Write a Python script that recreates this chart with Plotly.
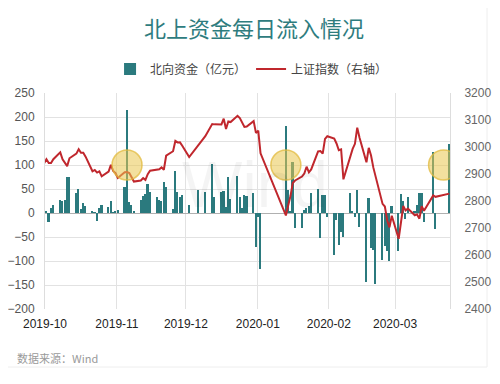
import plotly.graph_objects as go

# Trading days with Northbound data (x positions on a calendar date axis)
dates = [
    "2019-10-21", "2019-10-22", "2019-10-23", "2019-10-24", "2019-10-25",
    "2019-10-28", "2019-10-29", "2019-10-30", "2019-10-31", "2019-11-01",
    "2019-11-04", "2019-11-05", "2019-11-06", "2019-11-07", "2019-11-08",
    "2019-11-11", "2019-11-12", "2019-11-13", "2019-11-14", "2019-11-15",
    "2019-11-18", "2019-11-19", "2019-11-20", "2019-11-21", "2019-11-22",
    "2019-11-25", "2019-11-26", "2019-11-27", "2019-11-28", "2019-11-29",
    "2019-12-02", "2019-12-03", "2019-12-04", "2019-12-05", "2019-12-06",
    "2019-12-09", "2019-12-10", "2019-12-11", "2019-12-12", "2019-12-13",
    "2019-12-16", "2019-12-17", "2019-12-18", "2019-12-19", "2019-12-20",
    "2019-12-23", "2019-12-27", "2019-12-30",
    "2020-01-02", "2020-01-03", "2020-01-06", "2020-01-07", "2020-01-08",
    "2020-01-09", "2020-01-10", "2020-01-13", "2020-01-14", "2020-01-15",
    "2020-01-16", "2020-01-17", "2020-01-20", "2020-01-21", "2020-01-22",
    "2020-01-23",
    "2020-02-03", "2020-02-04", "2020-02-05", "2020-02-06", "2020-02-07",
    "2020-02-10", "2020-02-11", "2020-02-12", "2020-02-13", "2020-02-14",
    "2020-02-17", "2020-02-18", "2020-02-19", "2020-02-20", "2020-02-21",
    "2020-02-24", "2020-02-25", "2020-02-26", "2020-02-27", "2020-02-28",
    "2020-03-02", "2020-03-03", "2020-03-04", "2020-03-05", "2020-03-06",
    "2020-03-09", "2020-03-10", "2020-03-11", "2020-03-12", "2020-03-13",
    "2020-03-16", "2020-03-17", "2020-03-18", "2020-03-19", "2020-03-20",
    "2020-03-23", "2020-03-24", "2020-03-25", "2020-03-26", "2020-03-27",
    "2020-03-30", "2020-03-31", "2020-04-01", "2020-04-02", "2020-04-03",
    "2020-04-07", "2020-04-08", "2020-04-14",
]

# 北向资金 (亿元)
northbound = [
    5, 3, -18, 10, 17,
    28, 24, 27, 74, 74,
    41, 51, 8, 20, 14,
    4, 2, -17, 10, 17,
    13, 25, 2, 4, 7,
    55, 215, 22, 16, 5,
    27, 35, 40, 60, 43,
    33, 28, 24, 64, 54,
    8, 88, 44, 34, 37,
    17, 47, 44,
    102, 34, 44, 45, 13,
    76, 29, 77, 33, 10,
    37, 35, 41, -71, -8,
    -116,
    182, 48, 3, 107, -32,
    -32, 7, 11, 14, 41,
    51, -53, 37, 37, -9,
    -87, -15, -67, -39, -50,
    41, 3, -8, 48, -30,
    -143, 31, -72, -78, -147,
    -98, -68, -80, -101, 15,
    -79, 40, 25, -13, 33,
    5, 16, 41, 41, -18,
    128, -33, 144,
]

# 上证指数
sse = [
    2939.6, 2954.4, 2940.9, 2940.5, 2954.9,
    2980.1, 2954.2, 2939.3, 2929.1, 2958.2,
    2975.5, 2991.6, 2978.6, 2978.7, 2964.2,
    2910.0, 2914.8, 2905.2, 2909.9, 2891.3,
    2909.2, 2934.0, 2911.1, 2903.6, 2885.3,
    2906.2, 2907.1, 2903.2, 2889.7, 2872.0,
    2875.8, 2884.7, 2878.1, 2899.5, 2912.0,
    2914.5, 2917.3, 2924.4, 2915.7, 2967.7,
    2984.3, 3022.4, 3017.0, 3017.1, 3004.9,
    2962.8, 3005.0, 3040.0,
    3085.2, 3083.8, 3083.4, 3104.8, 3066.9,
    3094.9, 3092.3, 3115.6, 3106.8, 3090.0,
    3074.1, 3075.5, 3095.8, 3052.1, 3060.8,
    2976.5,
    2746.6, 2783.3, 2818.1, 2866.5, 2876.0,
    2890.5, 2901.7, 2926.9, 2906.1, 2917.0,
    2983.6, 2985.0, 2975.4, 3030.2, 3039.7,
    3031.2, 3013.1, 2987.9, 2991.3, 2880.3,
    2970.9, 2992.9, 3011.7, 3071.7, 3034.5,
    2943.3, 2996.8, 2968.5, 2923.5, 2887.4,
    2789.3, 2779.6, 2728.8, 2702.1, 2745.6,
    2660.2, 2722.4, 2781.6, 2764.9, 2772.2,
    2747.2, 2750.3, 2734.5, 2780.6, 2764.0,
    2820.8, 2815.4, 2827.3,
]

tick_vals = ["2019-10-21 09:00", "2019-11-21 15:00", "2019-12-21 14:00",
             "2020-01-21 20:00", "2020-02-21 16:00", "2020-03-21 10:00"]
tick_text = ["2019-10", "2019-11", "2019-12", "2020-01", "2020-02", "2020-03"]

highlight_dates = ["2019-11-26", "2020-02-03", "2020-04-11 12:00"]
highlight_level = 100

TEAL = "#2B7A7E"
RED = "#C0272D"
FONT = "Liberation Sans, Noto Sans CJK SC, sans-serif"

# page body has an 8px margin: figure is laid out in its own pixel frame
W, H = 492, 376
ML, MT, PW, PH = 37, 85, 405, 216

fig = go.Figure()
fig.add_trace(go.Bar(
    x=dates, y=northbound, name="北向资金（亿元）",
    marker=dict(color=TEAL, line=dict(width=0)),
    width=0.7 * 86400000, yaxis="y",
))
fig.add_trace(go.Scatter(
    x=dates, y=sse, name="上证指数（右轴）", mode="lines",
    line=dict(color=RED, width=2), yaxis="y2",
))

shapes = []
for d in highlight_dates:
    shapes.append(dict(
        type="circle", xref="x", yref="y", xsizemode="pixel", ysizemode="pixel",
        xanchor=d, yanchor=highlight_level, x0=-15, x1=15, y0=-15, y1=15,
        fillcolor="rgba(234,198,78,0.55)",
        line=dict(color="rgba(226,186,60,0.75)", width=1.5), layer="above",
    ))
# faint card border
shapes.append(dict(
    type="rect", xref="paper", yref="paper",
    x0=(2 - 45) / PW, x1=(487 - 45) / PW, y0=(309 - 367) / PH, y1=(309 - 2) / PH,
    line=dict(color="#eeeeee", width=1), fillcolor="rgba(0,0,0,0)", layer="below",
))

fig.update_layout(
    width=W, height=H,
    margin=dict(l=ML, r=W - ML - PW, t=MT, b=H - MT - PH, pad=0),
    paper_bgcolor="white", plot_bgcolor="white",
    font=dict(family=FONT, size=12, color="#555"),
    title=dict(
        text="北上资金每日流入情况", x=0.5, xanchor="center",
        y=1 - 21 / H, yanchor="middle",
        font=dict(family="Noto Sans CJK SC", size=22, color="#2E7C7E"),
    ),
    showlegend=True,
    legend=dict(
        orientation="h", x=0.51, xanchor="center", y=1 + 24 / PH, yanchor="middle",
        font=dict(family="Noto Sans CJK SC, " + FONT, size=12, color="#444"),
        bgcolor="rgba(0,0,0,0)",
    ),
    bargap=0,
    xaxis=dict(
        type="date", range=["2019-10-21 09:00", "2020-04-14 07:00"],
        tickvals=tick_vals, ticktext=tick_text,
        showgrid=True, gridcolor="#e2e2e2", gridwidth=1,
        showline=False, zeroline=False, ticks="",
        ticklabelstandoff=6, automargin=False,
        tickfont=dict(size=12, color="#222"),
    ),
    yaxis=dict(
        range=[-200, 250], tickvals=list(range(-200, 251, 50)),
        showgrid=True, gridcolor="#e2e2e2", gridwidth=1,
        zeroline=True, zerolinecolor="#b0b0b0", zerolinewidth=1,
        showline=True, linecolor="#dddddd", ticks="",
        ticklabelstandoff=7, automargin=False,
        tickfont=dict(size=12, color="#555"),
    ),
    yaxis2=dict(
        range=[2400, 3200], tickvals=list(range(2400, 3201, 100)),
        overlaying="y", side="right", showgrid=False, zeroline=False,
        showline=True, linecolor="#dddddd", ticks="",
        ticklabelstandoff=11, automargin=False,
        tickfont=dict(size=12, color="#666"),
    ),
    shapes=shapes,
    annotations=[
        dict(text="Wind", xref="paper", yref="paper",
             x=(255 - 45) / PW, y=(309 - 185) / PH, xanchor="center", yanchor="middle",
             showarrow=False, font=dict(family="Liberation Sans", size=64, color="rgba(0,0,0,0.045)")),
        dict(text="数据来源：Wind", xref="paper", yref="paper",
             x=(15 - 45) / PW, y=(309 - 358) / PH, xanchor="left", yanchor="middle",
             showarrow=False, font=dict(family="Noto Sans CJK SC, " + FONT, size=11, color="#9a9a9a")),
    ],
)

fig.write_html("out.html")
